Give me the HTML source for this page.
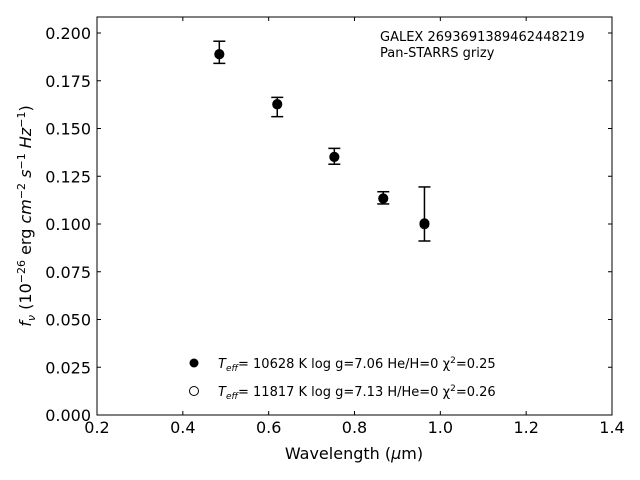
<!DOCTYPE html>
<html><head><meta charset="utf-8"><style>
body{margin:0;background:#fff;}
svg{display:block;font-family:"DejaVu Sans","Liberation Sans",sans-serif;}
</style></head><body>
<svg id="chart" width="640" height="480" viewBox="0 0 640 480">
<g id="marks"></g>
<rect x="97" y="17" width="515" height="398" fill="none" stroke="#000" stroke-width="1"/>
<g id="axes"></g>
<text x="354" y="459" text-anchor="middle" font-size="16">Wavelength (<tspan font-style="italic">μ</tspan>m)</text>
<text transform="translate(31,216) rotate(-90)" text-anchor="middle" font-size="16"><tspan font-style="italic">f</tspan><tspan font-style="italic" font-size="11" dy="4">ν</tspan><tspan dy="-4"> (10</tspan><tspan font-size="11" dy="-6">−26</tspan><tspan dy="6"> erg </tspan><tspan font-style="italic">cm</tspan><tspan font-size="11" dy="-6">−2</tspan><tspan dy="6"> </tspan><tspan font-style="italic">s</tspan><tspan font-size="11" dy="-6">−1</tspan><tspan dy="6"> </tspan><tspan font-style="italic">Hz</tspan><tspan font-size="11" dy="-6">−1</tspan><tspan dy="6">)</tspan></text>
<text x="380" y="41" font-size="13">GALEX 2693691389462448219</text>
<text x="380" y="57" font-size="13">Pan-STARRS grizy</text>
<g>
<circle cx="194" cy="363" r="4.5" fill="#000"/>
<text x="218" y="368" font-size="13"><tspan font-style="italic">T</tspan><tspan font-style="italic" font-size="9" dy="3">eff</tspan><tspan dy="-3">= 10628 K  log g=7.06  He/H=0  χ</tspan><tspan font-size="9" dy="-5">2</tspan><tspan dy="5">=0.25</tspan></text>
<circle cx="194" cy="391" r="4.5" fill="#fff" stroke="#000" stroke-width="1"/>
<text x="218" y="396" font-size="13"><tspan font-style="italic">T</tspan><tspan font-style="italic" font-size="9" dy="3">eff</tspan><tspan dy="-3">= 11817 K  log g=7.13  H/He=0  χ</tspan><tspan font-size="9" dy="-5">2</tspan><tspan dy="5">=0.26</tspan></text>
</g>
</svg>
<script>
const wavelengths=[0.485,0.620,0.753,0.867,0.963];
const fluxes=[0.189,0.1628,0.1352,0.1134,0.1004];
const errUpper=[0.1957,0.1663,0.1396,0.1169,0.1194];
const errLower=[0.1841,0.1562,0.1313,0.1105,0.0911];
const modelHFlux=[0.1888,0.1626,0.1350,0.1133,0.0998];
const xTicks=[0.2,0.4,0.6,0.8,1.0,1.2,1.4];
const xTickLabels=["0.2","0.4","0.6","0.8","1.0","1.2","1.4"];
const yTicks=[0,0.025,0.05,0.075,0.1,0.125,0.15,0.175,0.2];
const yTickLabels=["0.000","0.025","0.050","0.075","0.100","0.125","0.150","0.175","0.200"];
const NS="http://www.w3.org/2000/svg";
const X=v=>97+(v-0.2)*(515/1.2);
const Y=v=>415-v*1910;
function mk(t,a,p){const e=document.createElementNS(NS,t);for(const k in a)e.setAttribute(k,a[k]);p.appendChild(e);return e;}
const axes=document.getElementById('axes'),marks=document.getElementById('marks');
xTicks.forEach((v,i)=>{
 const l=mk('line',{x1:X(v),x2:X(v),y1:415,y2:411,stroke:'#000'},axes);
 
 
 const l2=mk('line',{x1:X(v),x2:X(v),y1:17,y2:21,stroke:'#000'},axes);
 
 
 const t=mk('text',{x:X(v),y:433,'text-anchor':'middle','font-size':16},axes);
 t.textContent=xTickLabels[i];
 
 
});
yTicks.forEach((v,i)=>{
 const l=mk('line',{x1:97,x2:101,y1:Y(v),y2:Y(v),stroke:'#000'},axes);
 
 
 const l2=mk('line',{x1:608,x2:612,y1:Y(v),y2:Y(v),stroke:'#000'},axes);
 
 
 const t=mk('text',{x:91,y:Y(v)+6,'text-anchor':'end','font-size':16},axes);
 t.textContent=yTickLabels[i];
 
 
});
wavelengths.forEach((w,i)=>{
 const x=X(w);
 const m=mk('circle',{cx:x,cy:Y(modelHFlux[i]),r:4.5,fill:'#fff',stroke:'#000'},marks);
 
 
 const g=mk('g',{stroke:'#000','stroke-width':1.5},marks);
 
 
 mk('line',{x1:x,x2:x,y1:Y(errUpper[i]),y2:Y(errLower[i])},g);
 mk('line',{x1:x-6,x2:x+6,y1:Y(errUpper[i]),y2:Y(errUpper[i])},g);
 mk('line',{x1:x-6,x2:x+6,y1:Y(errLower[i]),y2:Y(errLower[i])},g);
 const c=mk('circle',{cx:x,cy:Y(fluxes[i]),r:5,fill:'#000'},marks);
 
 
});
</script>
</body></html>
